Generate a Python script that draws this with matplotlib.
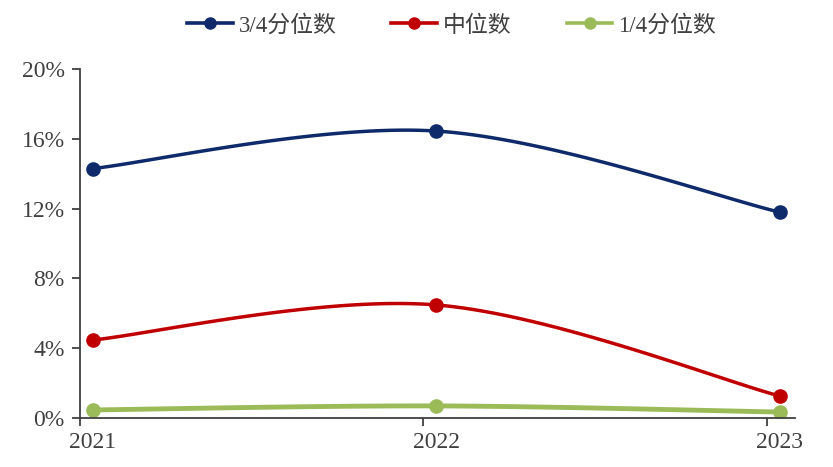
import numpy as np
import matplotlib.pyplot as plt
from matplotlib.ticker import FixedLocator, PercentFormatter

plt.rcParams['font.family'] = ['Liberation Serif', 'Noto Sans CJK SC']

years = ['2021', '2022', '2023']
q3 = [14.3, 16.45, 11.8]
median = [4.47, 6.48, 1.26]
q1 = [0.46, 0.69, 0.34]


def smooth(y, n=40):
    # excel style smoothed line (catmull-rom as bezier)
    y = np.asarray(y, float)
    x = np.arange(len(y), dtype=float)
    px = np.concatenate([[x[0]], x, [x[-1]]])
    py = np.concatenate([[y[0]], y, [y[-1]]])
    xs, ys = [], []
    t = np.linspace(0, 1, n)
    for i in range(1, len(px) - 2):
        p0 = np.array([px[i], py[i]])
        p3 = np.array([px[i + 1], py[i + 1]])
        p1 = p0 + (np.array([px[i + 1], py[i + 1]]) - np.array([px[i - 1], py[i - 1]])) / 6
        p2 = p3 - (np.array([px[i + 2], py[i + 2]]) - np.array([px[i], py[i]])) / 6
        b = ((1 - t) ** 3)[:, None] * p0 + (3 * (1 - t) ** 2 * t)[:, None] * p1 \
            + (3 * (1 - t) * t ** 2)[:, None] * p2 + (t ** 3)[:, None] * p3
        xs.extend(b[:, 0]); ys.extend(b[:, 1])
    return xs, ys


fig = plt.figure(figsize=(8.33, 4.67), dpi=100)
ax = fig.add_axes([0.096, 0.105, 0.858, 0.747])

series = [(q3, '#0e2a6b', '3/4分位数', 2.5), (median, '#c00000', '中位数', 2.5),
          (q1, '#9bbb59', '1/4分位数', 3.5)]
x = np.arange(len(years))
for vals, c, lab, lw in series:
    sx, sy = smooth(vals)
    ax.plot(sx, sy, color=c, lw=lw, solid_capstyle='round')
    ax.plot(x, vals, 'o', color=c, ms=9.5)
    ax.plot([], [], '-o', color=c, lw=2.6, ms=8, label=lab)

ax.set_xlim(-0.038, 2.044)
ax.set_ylim(0, 20)
ax.set_xticks(x)
ax.set_xticklabels(years)
ax.xaxis.set_minor_locator(FixedLocator([-0.038, 0.962, 1.962]))
ax.tick_params(axis='x', which='major', length=0, pad=10)
ax.tick_params(axis='x', which='minor', length=6, direction='out', color='#404040', width=1.3)
ax.set_yticks(np.arange(0, 21, 4))
ax.yaxis.set_major_formatter(PercentFormatter(decimals=0))
ax.tick_params(axis='y', length=6, direction='out', color='#404040', width=1.3, pad=5)
ax.tick_params(labelsize=17, labelcolor='#404040')

for s in ['top', 'right']:
    ax.spines[s].set_visible(False)
for s in ['left', 'bottom']:
    ax.spines[s].set_color('#404040')
    ax.spines[s].set_linewidth(1.3)

fig.legend(loc='center', bbox_to_anchor=(0.542, 0.945), ncol=3, frameon=False,
           fontsize=16.5, handlelength=2.0, columnspacing=2.4, handletextpad=0.25,
           labelcolor='#404040')

fig.savefig('out.png', dpi=100)
